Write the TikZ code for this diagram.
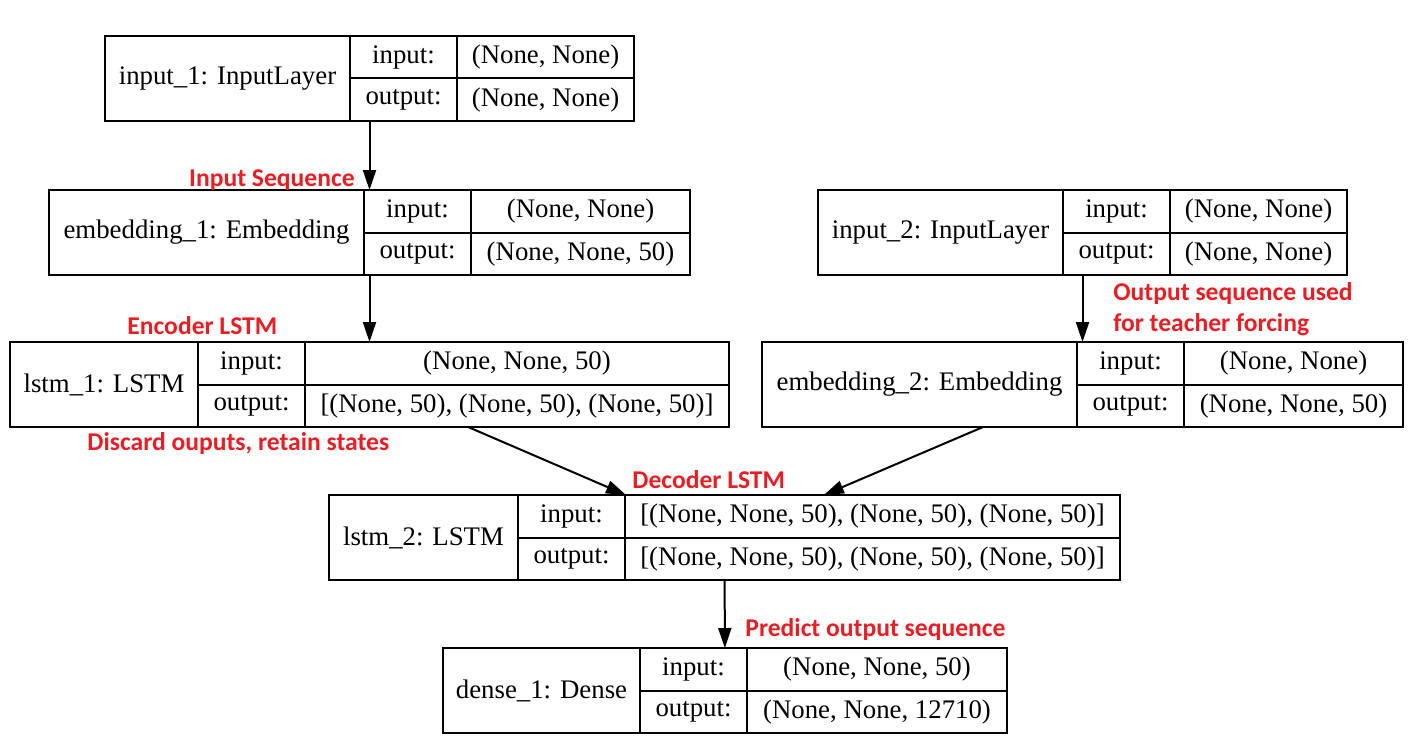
\documentclass[tikz,border=0pt]{standalone}
\usepackage{fontspec}
\setmainfont{Liberation Serif}
\newfontfamily\notefont{Carlito}
\usetikzlibrary{arrows.meta, fit, positioning}

\definecolor{notered}{RGB}{232,30,37}

\tikzset{
  cell/.style={draw, line width=1pt, inner sep=0pt, outer sep=0pt, anchor=north west,
    minimum height=21.25pt, font=\fontsize{13.4}{15}\selectfont},
  namecell/.style={cell, minimum height=42.5pt},
  labcell/.style={cell, minimum width=53.5pt},
  layer/.style={inner sep=0pt, outer sep=0pt},
  flow/.style={line width=1pt, -{Triangle[length=10pt,width=6.5pt]}},
  note/.style={text=notered, inner sep=0pt, font=\notefont\bfseries\fontsize{12.8}{15}\selectfont},
}

\begin{document}
\begin{tikzpicture}[x=0.5pt, y=-0.5pt]

    % Fix the page to the size of the picture
    \useasboundingbox (0,0) rectangle (1416,749);

    % input_1
    \node[namecell, minimum width=122.5pt] (inp1name) at (105,36) {input\_1: InputLayer};
    \node[labcell] (inp1in) at (inp1name.north east) {input:};
    \node[labcell] (inp1out) at (inp1in.south west) {output:};
    \node[cell, minimum width=88.5pt] (inp1inval) at (inp1in.north east) {(None, None)};
    \node[cell, minimum width=88.5pt] (inp1outval) at (inp1out.north east) {(None, None)};
    \node[layer, fit=(inp1name)(inp1outval)] (inp1) {};

    % embedding_1
    \node[namecell, minimum width=157.5pt] (emb1name) at (49,190) {embedding\_1: Embedding};
    \node[labcell] (emb1in) at (emb1name.north east) {input:};
    \node[labcell] (emb1out) at (emb1in.south west) {output:};
    \node[cell, minimum width=109.5pt] (emb1inval) at (emb1in.north east) {(None, None)};
    \node[cell, minimum width=109.5pt] (emb1outval) at (emb1out.north east) {(None, None, 50)};
    \node[layer, fit=(emb1name)(emb1outval)] (emb1) {};

    % lstm_1
    \node[namecell, minimum width=94pt] (lstm1name) at (10,342) {lstm\_1: LSTM};
    \node[labcell] (lstm1in) at (lstm1name.north east) {input:};
    \node[labcell] (lstm1out) at (lstm1in.south west) {output:};
    \node[cell, minimum width=212pt] (lstm1inval) at (lstm1in.north east) {(None, None, 50)};
    \node[cell, minimum width=212pt] (lstm1outval) at (lstm1out.north east) {[(None, 50), (None, 50), (None, 50)]};
    \node[layer, fit=(lstm1name)(lstm1outval)] (lstm1) {};

    % input_2
    \node[namecell, minimum width=122.5pt] (inp2name) at (818,190) {input\_2: InputLayer};
    \node[labcell] (inp2in) at (inp2name.north east) {input:};
    \node[labcell] (inp2out) at (inp2in.south west) {output:};
    \node[cell, minimum width=88.5pt] (inp2inval) at (inp2in.north east) {(None, None)};
    \node[cell, minimum width=88.5pt] (inp2outval) at (inp2out.north east) {(None, None)};
    \node[layer, fit=(inp2name)(inp2outval)] (inp2) {};

    % embedding_2
    \node[namecell, minimum width=157.5pt] (emb2name) at (762,342) {embedding\_2: Embedding};
    \node[labcell] (emb2in) at (emb2name.north east) {input:};
    \node[labcell] (emb2out) at (emb2in.south west) {output:};
    \node[cell, minimum width=109.5pt] (emb2inval) at (emb2in.north east) {(None, None)};
    \node[cell, minimum width=109.5pt] (emb2outval) at (emb2out.north east) {(None, None, 50)};
    \node[layer, fit=(emb2name)(emb2outval)] (emb2) {};

    % lstm_2
    \node[namecell, minimum width=94.5pt] (lstm2name) at (329,495) {lstm\_2: LSTM};
    \node[labcell] (lstm2in) at (lstm2name.north east) {input:};
    \node[labcell] (lstm2out) at (lstm2in.south west) {output:};
    \node[cell, minimum width=247.5pt] (lstm2inval) at (lstm2in.north east) {[(None, None, 50), (None, 50), (None, 50)]};
    \node[cell, minimum width=247.5pt] (lstm2outval) at (lstm2out.north east) {[(None, None, 50), (None, 50), (None, 50)]};
    \node[layer, fit=(lstm2name)(lstm2outval)] (lstm2) {};

    % dense_1
    \node[namecell, minimum width=98.5pt] (dense1name) at (443,648) {dense\_1: Dense};
    \node[labcell] (dense1in) at (dense1name.north east) {input:};
    \node[labcell] (dense1out) at (dense1in.south west) {output:};
    \node[cell, minimum width=130pt] (dense1inval) at (dense1in.north east) {(None, None, 50)};
    \node[cell, minimum width=130pt] (dense1outval) at (dense1out.north east) {(None, None, 12710)};
    \node[layer, fit=(dense1name)(dense1outval)] (dense1) {};

    % Connections between the layers
    \draw[flow] (inp1) -- (emb1);
    \draw[flow] (emb1) -- (lstm1);
    \draw[flow] (inp2) -- (emb2);
    \draw[flow] (lstm1) -- (lstm2);
    \draw[flow] (emb2) -- (lstm2);
    \draw[flow] (lstm2) -- (dense1);

    % Red notes
    \node[note, anchor=base east] (noteinput) at (355,186) {Input Sequence};
    \node[note, anchor=base west] (noteenc) at (127,334) {Encoder LSTM};
    \node[note, anchor=base west] (notediscard) at (87,450) {Discard ouputs, retain states};
    \node[note, anchor=base west] (noteteach) at (1113,300) {Output sequence used};
    \node[note, anchor=base west] (noteteach2) at (1113,331) {for teacher forcing};
    \node[note, anchor=base west] (notedec) at (632,488) {Decoder LSTM};
    \node[note, anchor=base west] (notepred) at (745,636) {Predict output sequence};

\end{tikzpicture}
\end{document}
